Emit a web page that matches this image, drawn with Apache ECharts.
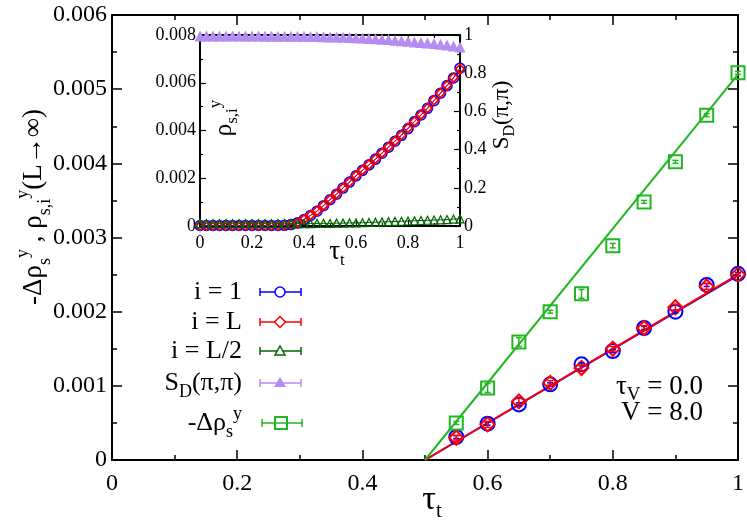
<!DOCTYPE html>
<html>
<head>
<meta charset="utf-8">
<script src="https://cdn.jsdelivr.net/npm/echarts@6/dist/echarts.min.js"></script>
<style>
html, body { margin: 0; padding: 0; background: #fff; }
#chart { width: 747px; height: 523px; }
</style>
</head>
<body>
<div id="chart"></div>
<script>
// main panel: tau_t values and measured points
var tauMain = [0.55, 0.6, 0.65, 0.7, 0.75, 0.8, 0.85, 0.9, 0.95, 1.0];
var rhoI1 = [0.00031, 0.00049, 0.00075, 0.00102, 0.00129, 0.00147, 0.00178, 0.00200, 0.00236, 0.00251];
var rhoIL = [0.00030, 0.00048, 0.00079, 0.00104, 0.00124, 0.00150, 0.00178, 0.00206, 0.00234, 0.00250];
var deltaRho = [0.00050, 0.00097, 0.00159, 0.00200, 0.00224, 0.00289, 0.00348, 0.00402, 0.00465, 0.00522];
var errI1 = [0.00002, 0.00002, 0.00002, 0.00002, 0.00002, 0.00002, 0.00002, 0.00002, 0.00002, 0.00002];
var errIL = [0.00003, 0.00004, 0.00004, 0.00003, 0.00004, 0.00003, 0.00003, 0.00004, 0.00004, 0.00002];
var errDelta = [0.00002, 0.00006, 0.00006, 0.00002, 0.00006, 0.00003, 0.00002, 0.00002, 0.00002, 0.00002];
// linear fits
var fitTau = [0.5, 1.0];
var fitI1 = [0, 0.00249];
var fitIL = [0, 0.00250];
var fitDelta = [0, 0.00520];

// inset: tau_t from 0 to 1 in steps of 0.025
var tauInset = [0, 0.025, 0.05, 0.075, 0.1, 0.125, 0.15, 0.175, 0.2, 0.225, 0.25, 0.275, 0.3, 0.325, 0.35, 0.375, 0.4, 0.425, 0.45, 0.475, 0.5, 0.525, 0.55, 0.575, 0.6, 0.625, 0.65, 0.675, 0.7, 0.725, 0.75, 0.775, 0.8, 0.825, 0.85, 0.875, 0.9, 0.925, 0.95, 0.975, 1.0];
var insetI1 = [0.00002, 0.00002, 0.00002, 0.00002, 0.00002, 0.00002, 0.00002, 0.00002, 0.00002, 0.00002, 0.00002, 0.00002, 0.00002, 0.00003, 0.00006, 0.00013, 0.00027, 0.00044, 0.00062, 0.00085, 0.00110, 0.00133, 0.00159, 0.00184, 0.00210, 0.00233, 0.00256, 0.00280, 0.00305, 0.00330, 0.00355, 0.00380, 0.00408, 0.00437, 0.00465, 0.00493, 0.00525, 0.00556, 0.00588, 0.00620, 0.00661];
var insetIL = [0.00002, 0.00002, 0.00002, 0.00002, 0.00002, 0.00002, 0.00002, 0.00002, 0.00002, 0.00002, 0.00002, 0.00002, 0.00002, 0.00003, 0.00006, 0.00014, 0.00028, 0.00045, 0.00063, 0.00086, 0.00111, 0.00134, 0.00160, 0.00184, 0.00211, 0.00234, 0.00257, 0.00281, 0.00306, 0.00331, 0.00356, 0.00381, 0.00410, 0.00438, 0.00466, 0.00494, 0.00527, 0.00557, 0.00589, 0.00621, 0.00658];
var insetIL2 = [0.00010, 0.00010, 0.00010, 0.00010, 0.00010, 0.00010, 0.00010, 0.00010, 0.00010, 0.00010, 0.00010, 0.00010, 0.00010, 0.00010, 0.00010, 0.00010, 0.00010, 0.00010, 0.00011, 0.00011, 0.00011, 0.00012, 0.00012, 0.00013, 0.00013, 0.00014, 0.00015, 0.00016, 0.00017, 0.00018, 0.00019, 0.00020, 0.00021, 0.00022, 0.00023, 0.00024, 0.00025, 0.00026, 0.00027, 0.00029, 0.00030];
var insetSD = [0.995, 0.995, 0.995, 0.995, 0.995, 0.995, 0.995, 0.995, 0.995, 0.995, 0.994, 0.994, 0.994, 0.994, 0.993, 0.993, 0.993, 0.992, 0.992, 0.991, 0.990, 0.989, 0.988, 0.987, 0.986, 0.984, 0.982, 0.980, 0.978, 0.976, 0.973, 0.970, 0.967, 0.964, 0.961, 0.958, 0.955, 0.951, 0.947, 0.942, 0.937];

var FONT = 'Liberation Serif';
var BLUE = '#0000ff', RED = '#ff0000', GREEN = '#1fb91f', DKGREEN = '#006400', PURPLE = '#b48cf2';

function pairs(xs, ys) {
  return xs.map(function (x, i) { return [x, ys[i]]; });
}

function errBars(xs, ys, es, color, xi, yi) {
  return {
    type: 'custom', xAxisIndex: xi, yAxisIndex: yi, z: 4, silent: true,
    data: xs.map(function (x, i) { return [x, ys[i], es[i]]; }),
    renderItem: function (params, api) {
      var x = api.value(0), y = api.value(1), e = api.value(2);
      var lo = api.coord([x, y - e]), hi = api.coord([x, y + e]);
      var st = { stroke: color, lineWidth: 1.5 };
      return {
        type: 'group', children: [
          { type: 'line', shape: { x1: lo[0], y1: lo[1], x2: hi[0], y2: hi[1] }, style: st },
          { type: 'line', shape: { x1: lo[0] - 3, y1: lo[1], x2: lo[0] + 3, y2: lo[1] }, style: st },
          { type: 'line', shape: { x1: hi[0] - 3, y1: hi[1], x2: hi[0] + 3, y2: hi[1] }, style: st }
        ]
      };
    }
  };
}

function markers(name, xs, ys, symbol, size, color, filled, xi, yi, lineW, bw) {
  return {
    name: name, type: 'line', xAxisIndex: xi, yAxisIndex: yi, z: 3,
    data: pairs(xs, ys), symbol: symbol, symbolSize: size, showSymbol: true,
    lineStyle: { width: lineW || 0, color: color },
    itemStyle: { color: filled ? color : 'rgba(0,0,0,0)', borderColor: color, borderWidth: filled ? 0 : (bw || 2) },
    silent: true, animation: false
  };
}

function fitLine(ys, color) {
  return {
    type: 'line', xAxisIndex: 0, yAxisIndex: 0, z: 2, data: pairs(fitTau, ys),
    symbol: 'none', lineStyle: { width: 2, color: color }, silent: true
  };
}

function axisBase(opts) {
  var big = opts.big;
  return {
    type: 'value', gridIndex: opts.grid, position: opts.position,
    min: opts.min, max: opts.max, interval: opts.interval,
    splitLine: { show: false },
    axisLine: { show: true, onZero: false, lineStyle: { color: '#000', width: 2 } },
    axisTick: { show: true, inside: true, length: big ? 10 : 6, lineStyle: { color: '#000', width: big ? 1.5 : 1.2 } },
    minorTick: { show: true, splitNumber: 2, length: big ? 5 : 3, lineStyle: { color: '#000', width: big ? 1.5 : 1.2 } },
    axisLabel: { show: !!opts.labels, color: '#000', fontFamily: FONT, fontSize: big ? 24 : 18, margin: opts.margin || 6 }
  };
}

var xAxes = [
  axisBase({ grid: 0, position: 'bottom', min: 0, max: 1, interval: 0.2, big: true, labels: true, margin: 12 }),
  axisBase({ grid: 0, position: 'top', min: 0, max: 1, interval: 0.2, big: true }),
  axisBase({ grid: 1, position: 'bottom', min: 0, max: 1, interval: 0.2, labels: true, margin: 8 }),
  axisBase({ grid: 1, position: 'top', min: 0, max: 1, interval: 0.2 })
];
var yAxes = [
  axisBase({ grid: 0, position: 'left', min: 0, max: 0.006, interval: 0.001, big: true, labels: true, margin: 5 }),
  axisBase({ grid: 0, position: 'right', min: 0, max: 0.006, interval: 0.001, big: true }),
  axisBase({ grid: 1, position: 'left', min: 0, max: 0.008, interval: 0.002, labels: true, margin: 4 }),
  axisBase({ grid: 1, position: 'right', min: 0, max: 1, interval: 0.2, labels: true, margin: 4 })
];

// rich text styles for sub/superscripts
function rich(main, small, lh) {
  return {
    m: { fontFamily: FONT, fontSize: main, lineHeight: lh, color: '#000' },
    b: { fontFamily: FONT, fontSize: small, lineHeight: small, verticalAlign: 'bottom', color: '#000' },
    p: { fontFamily: FONT, fontSize: small, lineHeight: small, verticalAlign: 'top', color: '#000' }
  };
}

function label(x, y, text, main, small, lh, align, rot) {
  return {
    type: 'text', x: x, y: y, rotation: rot || 0, z: 10, silent: true,
    style: { text: text, rich: rich(main, small, lh), align: align, verticalAlign: 'middle', fontFamily: FONT }
  };
}

// legend drawn by hand: text, error-bar style line and marker
function legendRow(y, text, color, shape) {
  var st = { stroke: color, lineWidth: 1.5 };
  var mk;
  if (shape === 'circle') mk = { type: 'circle', shape: { cx: 280, cy: y, r: 5 }, style: { stroke: color, lineWidth: 1.5, fill: '#fff' } };
  if (shape === 'diamond') mk = { type: 'polygon', shape: { points: [[280, y - 5.5], [285.5, y], [280, y + 5.5], [274.5, y]] }, style: { stroke: color, lineWidth: 1.5, fill: '#fff' } };
  if (shape === 'triangle') mk = { type: 'polygon', shape: { points: [[280, y - 5], [285, y + 4], [275, y + 4]] }, style: { stroke: color, lineWidth: 1.5, fill: '#fff' } };
  if (shape === 'ftriangle') mk = { type: 'polygon', shape: { points: [[280, y - 6], [286, y + 4], [274, y + 4]] }, style: { fill: color } };
  if (shape === 'square') mk = { type: 'rect', shape: { x: 275, y: y - 6, width: 12, height: 12 }, style: { stroke: color, lineWidth: 2, fill: 'rgba(0,0,0,0)' } };
  var x0 = shape === 'square' ? 262 : 260, x1 = shape === 'square' ? 302 : 301;
  return [
    label(242, y, text, 26, 18, 36, 'right'),
    { type: 'line', z: 10, shape: { x1: x0, y1: y, x2: x1, y2: y }, style: st },
    { type: 'line', z: 10, shape: { x1: x0, y1: y - 4, x2: x0, y2: y + 4 }, style: st },
    { type: 'line', z: 10, shape: { x1: x1, y1: y - 4, x2: x1, y2: y + 4 }, style: st },
    Object.assign(mk, { z: 11 })
  ];
}

var graphics = [].concat(
  legendRow(292, '{m|i = 1}', BLUE, 'circle'),
  legendRow(322, '{m|i = L}', RED, 'diamond'),
  legendRow(351, '{m|i = L/2}', DKGREEN, 'triangle'),
  legendRow(383, '{m|S}{b|D}{m|(π,π)}', PURPLE, 'ftriangle'),
  legendRow(423, '{m|-Δρ}{b|s}{p|y}', GREEN, 'square'),
  [
    label(703, 387, '{m|τ}{b|V}{m| = 0.0}', 27, 19, 36, 'right'),
    label(703, 413, '{m|V = 8.0}', 27, 19, 36, 'right'),
    label(432, 500, '{m|τ}{b|t}', 34, 21, 44, 'center'),
    label(337, 252, '{m|τ}{b|t}', 27, 17, 34, 'center'),
    label(34, 207, '{m|-Δρ}{b|s}{p|y}{m| , ρ}{b|s,i}{p|y}{m|(L→∞)}', 27, 18, 40, 'center', Math.PI / 2),
    label(224, 118, '{m|ρ}{b|s,i}{p|y}', 25, 17, 34, 'center', Math.PI / 2),
    label(502, 115, '{m|S}{b|D}{m|(π,π)}', 23, 16, 32, 'center', Math.PI / 2)
  ]
);

var series = [
  fitLine(fitI1, BLUE),
  fitLine(fitIL, RED),
  fitLine(fitDelta, GREEN),
  markers('i = 1', tauMain, rhoI1, 'circle', 14, BLUE, false, 0, 0),
  markers('i = L', tauMain, rhoIL, 'diamond', 14, RED, false, 0, 0),
  markers('-Δρs', tauMain, deltaRho, 'rect', 13, GREEN, false, 0, 0),
  errBars(tauMain, rhoI1, errI1, BLUE, 0, 0),
  errBars(tauMain, rhoIL, errIL, RED, 0, 0),
  errBars(tauMain, deltaRho, errDelta, GREEN, 0, 0),
  // inset
  markers('SD', tauInset, insetSD, 'triangle', 11, PURPLE, true, 2, 3),
  markers('i = 1 inset', tauInset, insetI1, 'circle', 10, BLUE, false, 2, 2, 1, 1.6),
  markers('i = L inset', tauInset, insetIL, 'diamond', 9, RED, false, 2, 2, 1, 1.8),
  markers('i = L/2 inset', tauInset, insetIL2, 'triangle', 8, DKGREEN, false, 2, 2, 1, 1.2)
];
series[9].clip = false;

myChart = echarts.init(document.getElementById('chart'));
myChart.setOption({
  animation: false,
  backgroundColor: '#fff',
  grid: [
    { left: 112, right: 9, top: 15, bottom: 63 },
    { left: 200, right: 287, top: 35, bottom: 297, show: true, backgroundColor: '#fff', borderWidth: 0 }
  ],
  xAxis: xAxes,
  yAxis: yAxes,
  series: series,
  graphic: graphics
});
</script>
</body>
</html>
